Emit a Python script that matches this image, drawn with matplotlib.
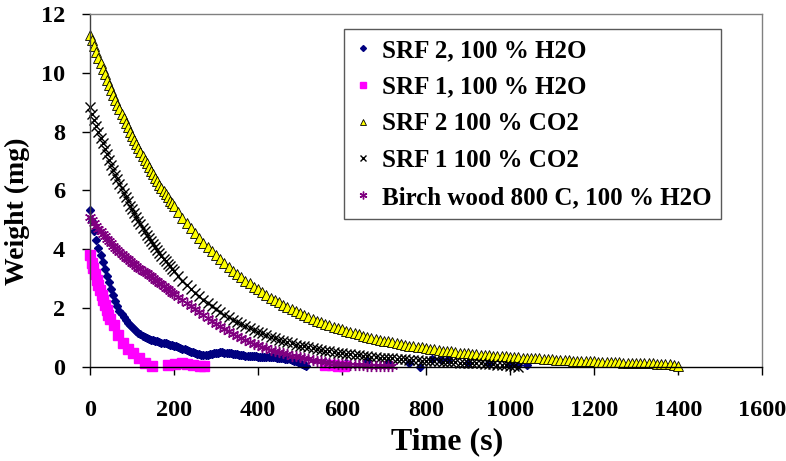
import numpy as np
import matplotlib.pyplot as plt

plt.rcParams['font.family'] = ['Liberation Serif', 'DejaVu Serif']
plt.rcParams['font.weight'] = 'bold'

# SRF 2, 100 % H2O  (sampled every 5 s up to 515 s, then a few scattered late points)
srf2_h2o_t = np.arange(0, 520, 5)
srf2_h2o_w = [5.35, 4.95, 4.62, 4.33, 4.06, 3.80, 3.56, 3.33, 3.10, 2.88,
              2.66, 2.45, 2.26, 2.08, 1.92, 1.80, 1.69, 1.59, 1.50, 1.42,
              1.35, 1.29, 1.23, 1.17, 1.12, 1.07, 1.03, 0.99, 0.96, 0.93,
              0.91, 0.89, 0.87, 0.85, 0.83, 0.82, 0.80, 0.78, 0.76, 0.74,
              0.72, 0.70, 0.67, 0.65, 0.62, 0.60, 0.57, 0.55, 0.52, 0.50,
              0.47, 0.45, 0.43, 0.42, 0.41, 0.41, 0.42, 0.44, 0.45, 0.47,
              0.48, 0.49, 0.50, 0.50, 0.49, 0.48, 0.47, 0.46, 0.45, 0.44,
              0.43, 0.42, 0.41, 0.40, 0.39, 0.38, 0.37, 0.37, 0.36, 0.36,
              0.35, 0.35, 0.35, 0.34, 0.34, 0.34, 0.34, 0.33, 0.33, 0.32,
              0.31, 0.30, 0.29, 0.28, 0.27, 0.26, 0.24, 0.22, 0.20, 0.17,
              0.14, 0.10, 0.06, 0.03]
srf2_h2o_late_t = [560, 610, 660, 710, 760, 786, 815, 835, 852, 900, 950, 1000, 1020, 1040]
srf2_h2o_late_w = [0.18, 0.15, 0.20, 0.14, 0.12, 0.00, 0.26, 0.24, 0.28, 0.15, 0.12, 0.10, 0.06, 0.08]

# SRF 1, 100 % H2O
srf1_h2o_t = [0, 4, 8, 12, 16, 20, 24, 28, 32, 36, 40, 44, 48, 56, 67, 79, 91, 103, 117, 131, 147,
              186, 202, 218, 230, 246, 262, 272, 560, 575, 590, 605]
srf1_h2o_w = [3.80, 3.55, 3.35, 3.15, 2.95, 2.78, 2.61, 2.44, 2.27, 2.10, 1.93, 1.78, 1.64, 1.42,
              1.08, 0.82, 0.62, 0.47, 0.31, 0.14, 0.02,
              0.07, 0.10, 0.12, 0.10, 0.07, 0.03, 0.02, 0.06, 0.08, 0.05, 0.04]

# SRF 2 100 % CO2  (every 5 s to 195 s, then every 10 s)
srf2_co2_t = np.concatenate([np.arange(0, 200, 5), np.arange(200, 1410, 10)])
srf2_co2_w = [11.30, 11.10, 10.90, 10.70, 10.51, 10.32, 10.13, 9.95, 9.77, 9.59,
              9.42, 9.25, 9.09, 8.92, 8.76, 8.60, 8.45, 8.30, 8.15, 8.00,
              7.86, 7.72, 7.58, 7.44, 7.31, 7.18, 7.05, 6.92, 6.79, 6.67,
              6.55, 6.43, 6.32, 6.20, 6.09, 5.98, 5.87, 5.77, 5.66, 5.56,
              5.46, 5.27, 5.08, 4.90, 4.72, 4.55, 4.39, 4.23, 4.08, 3.94,
              3.80, 3.66, 3.53, 3.40, 3.28, 3.16, 3.05, 2.94, 2.84, 2.73,
              2.64, 2.54, 2.45, 2.36, 2.28, 2.20, 2.12, 2.04, 1.97, 1.90,
              1.83, 1.77, 1.70, 1.64, 1.58, 1.53, 1.47, 1.42, 1.37, 1.32,
              1.28, 1.23, 1.19, 1.15, 1.11, 1.07, 1.03, 0.99, 0.96, 0.93,
              0.90, 0.87, 0.84, 0.81, 0.78, 0.76, 0.73, 0.71, 0.69, 0.67,
              0.64, 0.62, 0.60, 0.58, 0.56, 0.55, 0.53, 0.51, 0.49, 0.48,
              0.46, 0.45, 0.44, 0.42, 0.41, 0.40, 0.39, 0.38, 0.37, 0.36,
              0.35, 0.34, 0.33, 0.32, 0.31, 0.30, 0.29, 0.29, 0.28, 0.27,
              0.26, 0.25, 0.25, 0.24, 0.23, 0.22, 0.22, 0.21, 0.20, 0.20,
              0.19, 0.18, 0.18, 0.17, 0.17, 0.16, 0.16, 0.15, 0.15, 0.14,
              0.14, 0.13, 0.13, 0.12, 0.12, 0.11, 0.11, 0.10, 0.09, 0.08,
              0.02]

# SRF 1 100 % CO2  (every 5 s to 195 s, then every 10 s)
srf1_co2_t = np.concatenate([np.arange(0, 200, 5), np.arange(200, 1030, 10)])
srf1_co2_w = [8.83, 8.61, 8.40, 8.19, 7.99, 7.79, 7.60, 7.41, 7.23, 7.05,
              6.88, 6.71, 6.54, 6.38, 6.22, 6.07, 5.92, 5.77, 5.63, 5.49,
              5.36, 5.23, 5.10, 4.97, 4.85, 4.73, 4.61, 4.50, 4.39, 4.28,
              4.17, 4.07, 3.97, 3.87, 3.78, 3.68, 3.59, 3.50, 3.42, 3.33,
              3.25, 3.09, 2.94, 2.80, 2.66, 2.53, 2.41, 2.29, 2.18, 2.07,
              1.97, 1.88, 1.78, 1.70, 1.61, 1.53, 1.46, 1.39, 1.32, 1.26,
              1.20, 1.14, 1.08, 1.03, 0.98, 0.93, 0.89, 0.84, 0.80, 0.76,
              0.73, 0.70, 0.67, 0.64, 0.61, 0.58, 0.56, 0.53, 0.51, 0.49,
              0.47, 0.45, 0.43, 0.41, 0.40, 0.38, 0.37, 0.35, 0.34, 0.32,
              0.31, 0.30, 0.29, 0.28, 0.27, 0.26, 0.25, 0.24, 0.23, 0.22,
              0.21, 0.20, 0.20, 0.19, 0.18, 0.17, 0.17, 0.16, 0.15, 0.15,
              0.14, 0.13, 0.12, 0.12, 0.11, 0.10, 0.09, 0.08, 0.07, 0.06,
              0.05, 0.03, 0.01]

# Birch wood 800 C, 100 % H2O  (every 5 s to 195 s, then every 10 s)
birch_t = np.concatenate([np.arange(0, 200, 5), np.arange(200, 730, 10)])
birch_w = [5.10, 5.00, 4.90, 4.80, 4.70, 4.61, 4.52, 4.44, 4.36, 4.28,
           4.20, 4.13, 4.06, 3.99, 3.92, 3.85, 3.78, 3.72, 3.66, 3.60,
           3.55, 3.49, 3.44, 3.38, 3.33, 3.28, 3.23, 3.18, 3.13, 3.08,
           3.03, 2.97, 2.92, 2.86, 2.81, 2.75, 2.70, 2.64, 2.59, 2.53,
           2.48, 2.38, 2.28, 2.17, 2.06, 1.96, 1.86, 1.76, 1.66, 1.56,
           1.47, 1.38, 1.29, 1.21, 1.13, 1.05, 0.98, 0.91, 0.85, 0.79,
           0.74, 0.69, 0.64, 0.59, 0.55, 0.51, 0.47, 0.43, 0.39, 0.36,
           0.33, 0.30, 0.27, 0.24, 0.21, 0.19, 0.17, 0.15, 0.13, 0.11,
           0.10, 0.09, 0.08, 0.07, 0.06, 0.06, 0.05, 0.05, 0.04, 0.04,
           0.03, 0.03, 0.03]

fig = plt.figure(figsize=(7.86, 4.61), dpi=100)
ax = fig.add_axes([90 / 786, 1 - 367 / 461, 672 / 786, 353 / 461])

kw = dict(linestyle='none', clip_on=False)
ax.plot(srf2_h2o_t, srf2_h2o_w, marker='D', ms=4.3, color='#000080', mec='#000080',
        label='SRF 2, 100 % H2O', **kw)
ax.plot(srf2_h2o_late_t, srf2_h2o_late_w, marker='D', ms=4.3, color='#000080', **kw)
ax.plot(srf1_h2o_t, srf1_h2o_w, marker='s', ms=6.5, color='#FF00FF', mec='#FF00FF',
        label='SRF 1, 100 % H2O', **kw)
ax.plot(srf2_co2_t, srf2_co2_w, marker='^', ms=7, color='#FFFF00', mec='black', mew=0.6,
        label='SRF 2 100 % CO2', **kw)
ax.plot(srf1_co2_t, srf1_co2_w, marker='x', ms=6.5, color='black', mew=1.0,
        label='SRF 1 100 % CO2', **kw)
ax.plot(birch_t, birch_w, marker=(6, 2, 0), ms=8, color='#800080', mew=1.0,
        label='Birch wood 800 C, 100 % H2O', **kw)

ax.set_xlim(0, 1600)
ax.set_ylim(0, 12)
ax.set_xticks(np.arange(0, 1601, 200))
ax.set_yticks(np.arange(0, 13, 2))
ax.tick_params(axis='x', direction='out', length=6, width=1, pad=18, labelsize=17.5)
ax.tick_params(axis='y', direction='out', length=6, width=1, pad=12, labelsize=17.5)
for lbl in ax.get_xticklabels() + ax.get_yticklabels():
    lbl.set_fontweight('bold')

for side in ('top', 'right'):
    ax.spines[side].set_color('#808080')
    ax.spines[side].set_linewidth(1)
ax.spines['left'].set_color('#404040')
ax.spines['bottom'].set_color('black')
ax.spines['left'].set_linewidth(1)
ax.spines['bottom'].set_linewidth(1)

ax.set_xlabel('Time (s)', fontsize=23, fontweight='bold')
ax.xaxis.set_label_coords(0.532, -0.17)
ax.set_ylabel('Weight (mg)', fontsize=20, fontweight='bold')
ax.yaxis.set_label_coords(-0.089, 0.44)

leg = ax.legend(loc='upper left', bbox_to_anchor=(344 / 786, 1 - 29 / 461),
                bbox_transform=fig.transFigure, fontsize=18, frameon=True,
                fancybox=False, shadow=False, markerscale=0.7, handlelength=0.75,
                handletextpad=0.35, labelspacing=0.55, borderpad=0.4, borderaxespad=0)
leg.get_frame().set_edgecolor('#303030')
leg.get_frame().set_linewidth(1)
for t in leg.get_texts():
    t.set_fontweight('bold')

fig.savefig('out.png', dpi=100)
